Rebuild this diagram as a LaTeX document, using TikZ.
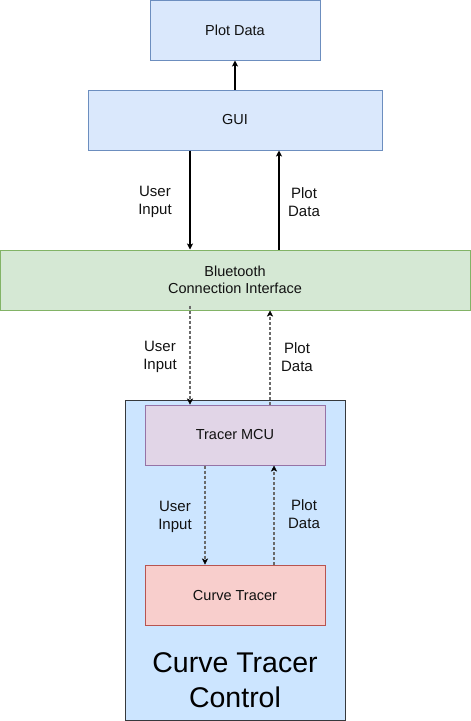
\documentclass[tikz,border=0pt]{standalone}
\usepackage{fontspec}
\setmainfont{Liberation Sans}
\usetikzlibrary{arrows.meta}
\definecolor{bluefill}{HTML}{DAE8FC}
\definecolor{bluedraw}{HTML}{6C8EBF}
\definecolor{greenfill}{HTML}{D5E8D4}
\definecolor{greendraw}{HTML}{82B366}
\definecolor{purplefill}{HTML}{E1D5E7}
\definecolor{purpledraw}{HTML}{9673A6}
\definecolor{redfill}{HTML}{F8CECC}
\definecolor{reddraw}{HTML}{B85450}
\definecolor{contfill}{HTML}{CCE5FF}
\definecolor{contdraw}{HTML}{36393D}
\definecolor{txt}{HTML}{111111}
\definecolor{dotgray}{HTML}{6A6A6A}
\tikzset{
  box/.style={draw, line width=1pt, minimum height=60pt, inner sep=0pt, align=center,
    text=txt, font=\fontsize{14.5}{17.5}\selectfont},
  bluebox/.style={box, fill=bluefill, draw=bluedraw},
  greenbox/.style={box, fill=greenfill, draw=greendraw},
  purplebox/.style={box, fill=purplefill, draw=purpledraw},
  redbox/.style={box, fill=redfill, draw=reddraw},
  solidarrow/.style={draw=black, line width=1.1pt, -{Stealth[length=6pt,width=6pt,inset=1.5pt]}},
  dotarrow/.style={draw=dotgray, line width=1.3pt, dash pattern=on 3pt off 2pt,
    -{Stealth[length=6pt,width=6pt,inset=1.5pt,color=black,fill=black,line width=0.5pt]}},
  lbl/.style={align=center, text=txt, font=\fontsize{15}{18.5}\selectfont, inner sep=0pt}
}
\begin{document}
\begin{tikzpicture}[x=1pt,y=-1pt]
\useasboundingbox (0,0) rectangle (471,721);
% container
\node[draw=contdraw, fill=contfill, line width=1pt, minimum width=220pt, minimum height=320pt, inner sep=0pt] (cont) at (235,560) {};
\node[lbl, text=black, font=\fontsize{28.5}{35}\selectfont] (contlbl) at (235,680) {Curve Tracer\\Control};
% boxes
\node[bluebox, minimum width=170pt] (plot) at (235,30) {Plot Data};
\node[bluebox, minimum width=294pt] (gui) at (235,120) {GUI};
\node[greenbox, minimum width=470pt] (bt) at (235,280) {Bluetooth\\Connection Interface};
\node[purplebox, minimum width=180pt] (mcu) at (235,435) {Tracer MCU};
\node[redbox, minimum width=180pt] (ct) at (235,595) {Curve Tracer};
% arrows
\draw[solidarrow] (gui.north) -- (plot.south);
\draw[solidarrow] ([xshift=-45pt]gui.south) -- ([xshift=-45pt]bt.north);
\draw[solidarrow] ([xshift=44pt]bt.north) -- ([xshift=44pt]gui.south);
\draw[dotarrow] ([xshift=-45pt,yshift=5pt]bt.south) -- ([xshift=-45pt]mcu.north);
\draw[dotarrow] ([xshift=35pt]mcu.north) -- ([xshift=35pt]bt.south);
\draw[dotarrow] ([xshift=-30pt]mcu.south) -- ([xshift=-30pt]ct.north);
\draw[dotarrow] ([xshift=39pt]ct.north) -- ([xshift=39pt]mcu.south);
% labels
\node[lbl] (l1) at (155,202) {User\\Input};
\node[lbl] (l2) at (304,202) {Plot\\Data};
\node[lbl] (l3) at (160,357) {User\\Input};
\node[lbl] (l4) at (297,357) {Plot\\Data};
\node[lbl] (l5) at (175,517) {User\\Input};
\node[lbl] (l6) at (304,514) {Plot\\Data};
\end{tikzpicture}
\end{document}
